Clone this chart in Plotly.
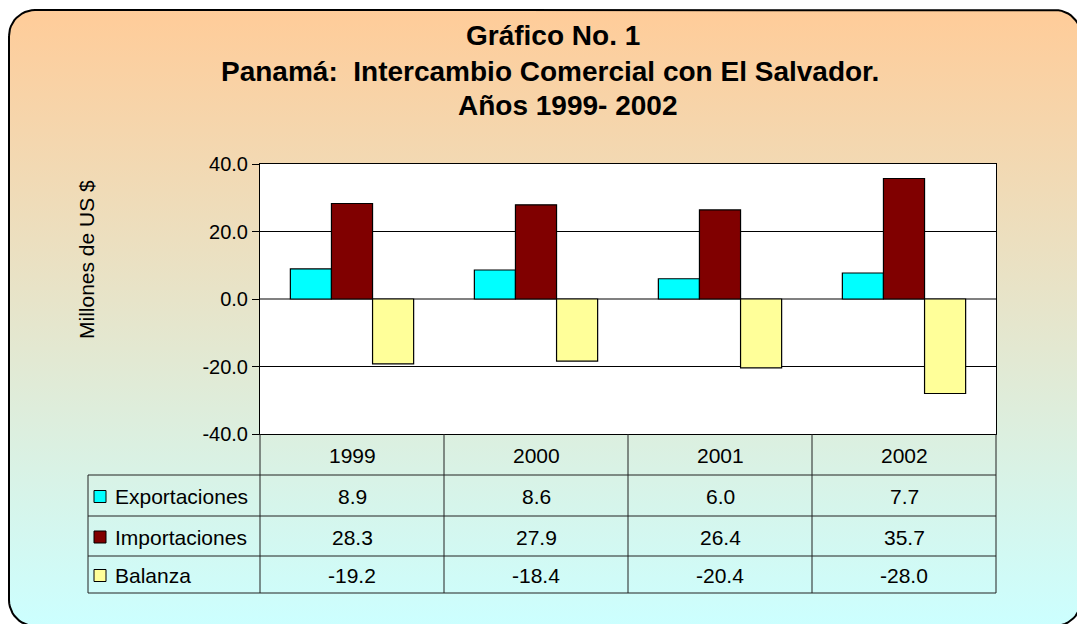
import math
import plotly.graph_objects as go

W, H = 1077, 624

categories = ["1999", "2000", "2001", "2002"]
series_names = ["Exportaciones", "Importaciones", "Balanza"]
exportaciones = [8.9, 8.6, 6.0, 7.7]
importaciones = [28.3, 27.9, 26.4, 35.7]
balanza = [-19.2, -18.4, -20.4, -28.0]
series_values = [exportaciones, importaciones, balanza]
series_colors = ["#00FFFF", "#800000", "#FFFF99"]
y_tick_values = [-40, -20, 0, 20, 40]
title_lines = ["Gráfico No. 1", "Panamá:  Intercambio Comercial con El Salvador.", "Años 1999- 2002"]
y_title = "Millones de US $"

FONT = "Liberation Sans, Arial, sans-serif"

# plot area in pixels
L, R, T, B = 260, 996, 164, 434
LABEL_L = 88
row_lines = [434, 475, 516, 556, 593]
col_w = (R - L) / len(categories)

# rounded rectangle outline for background
x0, x1, y0, y1, rad = 9, 1081, 10, 626, 26
px, py = [], []
def arc(cx, cy, a0, a1):
    for i in range(13):
        a = math.radians(a0 + (a1 - a0) * i / 12)
        px.append(cx + rad * math.cos(a))
        py.append(cy + rad * math.sin(a))
arc(x0 + rad, y0 + rad, 180, 270)
arc(x1 - rad, y0 + rad, 270, 360)
arc(x1 - rad, y1 - rad, 0, 90)
arc(x0 + rad, y1 - rad, 90, 180)
px.append(px[0]); py.append(py[0])

fig = go.Figure()
fig.add_trace(go.Scatter(
    x=px, y=py, mode="lines", fill="toself",
    line=dict(color="black", width=2),
    fillgradient=dict(type="vertical",
                      colorscale=[[0, "#FFCC99"], [1, "#CCFFFF"]],
                      start=y0, stop=y1),
    hoverinfo="skip", showlegend=False, xaxis="x", yaxis="y"))

for name, vals, col in zip(series_names, series_values, series_colors):
    fig.add_trace(go.Bar(
        x=categories, y=vals, name=name, marker=dict(color=col, line=dict(color="black", width=1.2)),
        xaxis="x2", yaxis="y2", showlegend=False, hoverinfo="skip"))

shapes = []
anns = []
LC = "#222222"
for i, yy in enumerate(row_lines):
    if i == 0:
        continue
    shapes.append(dict(type="line", xref="x", yref="y", x0=LABEL_L, x1=R, y0=yy, y1=yy,
                       line=dict(color=LC, width=1)))
for k in range(len(categories) + 1):
    xx = L + k * col_w
    shapes.append(dict(type="line", xref="x", yref="y", x0=xx, x1=xx, y0=row_lines[0], y1=row_lines[-1],
                       line=dict(color=LC, width=1)))
shapes.append(dict(type="line", xref="x", yref="y", x0=LABEL_L, x1=LABEL_L, y0=row_lines[1], y1=row_lines[-1],
                   line=dict(color=LC, width=1)))

TF = dict(family=FONT, size=21, color="black")
for k, c in enumerate(categories):
    anns.append(dict(x=L + (k + 0.5) * col_w, y=(row_lines[0] + row_lines[1]) / 2 + 1, xref="x", yref="y",
                     text=c, showarrow=False, font=TF, xanchor="center", yanchor="middle"))
for r, (name, vals, col) in enumerate(zip(series_names, series_values, series_colors)):
    yc = (row_lines[r + 1] + row_lines[r + 2]) / 2 + 1
    shapes.append(dict(type="rect", xref="x", yref="y", x0=94, x1=106, y0=yc - 6, y1=yc + 6,
                       fillcolor=col, line=dict(color="black", width=1)))
    anns.append(dict(x=113, y=yc, xref="x", yref="y", text=name, showarrow=False,
                     font=TF, xanchor="left", yanchor="middle"))
    for k, v in enumerate(vals):
        anns.append(dict(x=L + (k + 0.5) * col_w, y=yc, xref="x", yref="y", text=f"{v:.1f}",
                         showarrow=False, font=TF, xanchor="center", yanchor="middle"))

title_x = [553, 550, 567]
title_y = [35, 71, 105]
for t, tx, ty in zip(title_lines, title_x, title_y):
    anns.append(dict(x=tx, y=ty, xref="x", yref="y", text=f"<b>{t}</b>", showarrow=False,
                     font=dict(family=FONT, size=28, color="black"), xanchor="center", yanchor="middle"))
anns.append(dict(x=86, y=260, xref="x", yref="y", text=y_title, textangle=-90, showarrow=False,
                 font=dict(family=FONT, size=21, color="black"), xanchor="center", yanchor="middle"))

fig.update_layout(
    template="none",
    width=W, height=H, margin=dict(l=0, r=0, t=0, b=0, pad=0, autoexpand=False),
    paper_bgcolor="white", plot_bgcolor="white",
    barmode="group", bargap=0.33, bargroupgap=0, showlegend=False,
    xaxis=dict(domain=[0, 1], range=[0, W], visible=False, fixedrange=True),
    yaxis=dict(domain=[0, 1], range=[H, 0], visible=False, fixedrange=True),
    xaxis2=dict(domain=[L / W, R / W], anchor="y2", showticklabels=False, ticks="",
                showline=True, mirror=True, linecolor="black", linewidth=1, showgrid=False,
                zeroline=False, automargin=False),
    yaxis2=dict(domain=[1 - B / H, 1 - T / H], anchor="x2", range=[-40, 40],
                tickvals=y_tick_values, ticktext=[f"{v:.1f}" for v in y_tick_values],
                ticks="outside", ticklen=7, tickcolor="black",
                tickfont=dict(family=FONT, size=20, color="black"),
                showline=True, mirror=True, linecolor="black", linewidth=1,
                showgrid=True, gridcolor="black", gridwidth=1, automargin=False,
                zeroline=True, zerolinecolor="#808080", zerolinewidth=1.5),
    shapes=shapes, annotations=anns,
    font=dict(family=FONT),
)

fig.write_html("out.html", post_script="document.body.style.margin='0';",
               config={"displayModeBar": False})
